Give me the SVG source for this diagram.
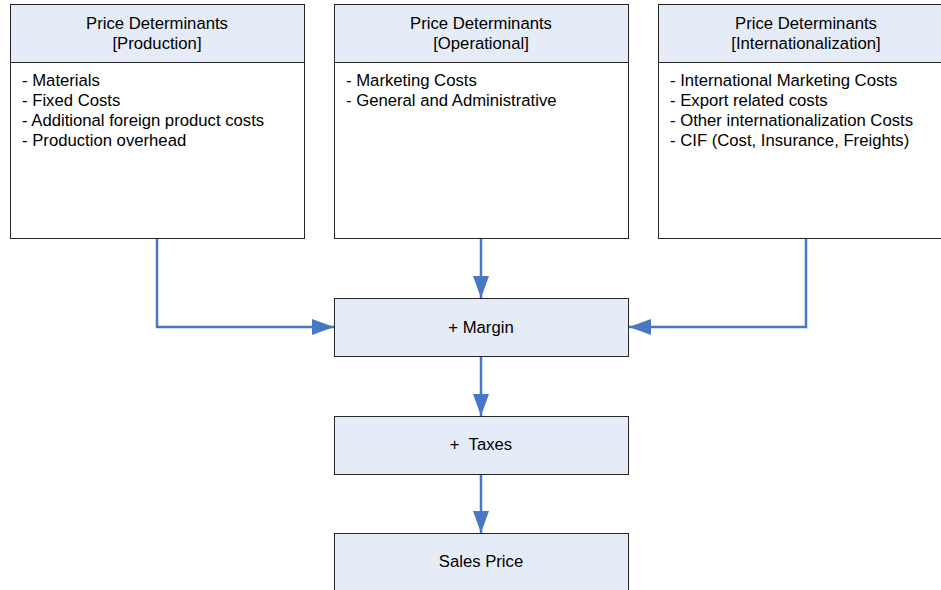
<svg xmlns="http://www.w3.org/2000/svg" width="941" height="590" viewBox="0 0 941 590">
<defs>
<style>
.box{fill:#ffffff;stroke:#262626;stroke-width:1}
.hdr{fill:#e6ecf7;stroke:#262626;stroke-width:1}
.t{font-family:"Liberation Sans",Arial,sans-serif;font-size:16.7px;fill:#000}
.c{text-anchor:middle}
.con{fill:none;stroke:#4877c3;stroke-width:2.5}
</style>
<marker id="ah" viewBox="0 0 22 16" refX="22" refY="8" markerWidth="22" markerHeight="16" markerUnits="userSpaceOnUse" orient="auto">
<path d="M0,0 L22,8 L0,16 Z" fill="#4877c3"/>
</marker>
</defs>
<rect width="941" height="590" fill="#ffffff"/>
<g id="connectors">
<path class="con" d="M157,239 V327 H334" marker-end="url(#ah)"/>
<path class="con" d="M481,239 V298" marker-end="url(#ah)"/>
<path class="con" d="M806,239 V327 H629" marker-end="url(#ah)"/>
<path class="con" d="M481,356 V416" marker-end="url(#ah)"/>
<path class="con" d="M481,474 V533" marker-end="url(#ah)"/>
</g>
<g id="production">
<rect class="hdr" x="10.5" y="4.5" width="294" height="58"/>
<rect class="box" x="10.5" y="62.5" width="294" height="176"/>
<text class="t c" x="157" y="29">Price Determinants</text>
<text class="t c" x="157" y="49">[Production]</text>
<text class="t" x="22" y="86">- Materials</text>
<text class="t" x="22" y="106">- Fixed Costs</text>
<text class="t" x="22" y="126">- Additional foreign product costs</text>
<text class="t" x="22" y="146">- Production overhead</text>
</g>
<g id="operational">
<rect class="hdr" x="334.5" y="4.5" width="294" height="58"/>
<rect class="box" x="334.5" y="62.5" width="294" height="176"/>
<text class="t c" x="481" y="29">Price Determinants</text>
<text class="t c" x="481" y="49">[Operational]</text>
<text class="t" x="346" y="86">- Marketing Costs</text>
<text class="t" x="346" y="106">- General and Administrative</text>
</g>
<g id="internationalization">
<rect class="hdr" x="658.5" y="4.5" width="294" height="58"/>
<rect class="box" x="658.5" y="62.5" width="294" height="176"/>
<text class="t c" x="806" y="29">Price Determinants</text>
<text class="t c" x="806" y="49">[Internationalization]</text>
<text class="t" x="670" y="86">- International Marketing Costs</text>
<text class="t" x="670" y="106">- Export related costs</text>
<text class="t" x="670" y="126">- Other internationalization Costs</text>
<text class="t" x="670" y="146">- CIF (Cost, Insurance, Freights)</text>
</g>
<g id="margin">
<rect class="hdr" x="334.5" y="298.5" width="294" height="58"/>
<text class="t c" x="481" y="333">+ Margin</text>
</g>
<g id="taxes">
<rect class="hdr" x="334.5" y="416.5" width="294" height="58"/>
<text class="t c" x="481" y="450" xml:space="preserve">+  Taxes</text>
</g>
<g id="sales">
<rect class="hdr" x="334.5" y="533.5" width="294" height="58"/>
<text class="t c" x="481" y="567">Sales Price</text>
</g>
</svg>
